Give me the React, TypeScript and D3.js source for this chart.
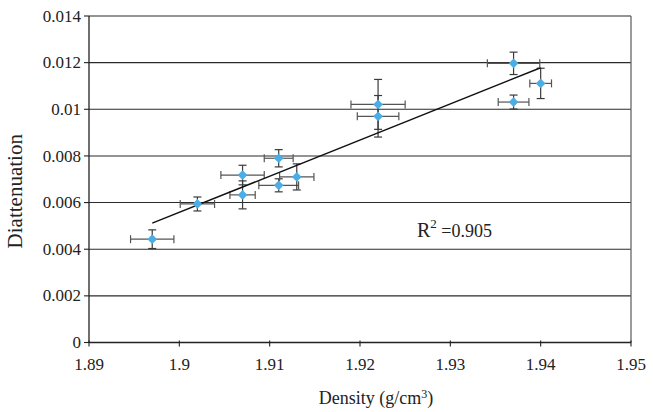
import React from 'react';
import * as d3 from 'd3';

// density (g/cm3), diattenuation and their error bars
const density = [1.897, 1.902, 1.907, 1.907, 1.911, 1.911, 1.913, 1.922, 1.922, 1.937, 1.94, 1.937];
const diattenuation = [0.00443, 0.00594, 0.00718, 0.00633, 0.0079, 0.00674, 0.0071, 0.01021, 0.0097, 0.01197, 0.01111, 0.01031];
const densityErr = [0.0024, 0.0019, 0.0024, 0.0014, 0.0016, 0.0022, 0.0019, 0.003, 0.0023, 0.0029, 0.0012, 0.0017];
const diattErr = [0.0004, 0.0003, 0.00042, 0.0006, 0.00037, 0.00028, 0.00056, 0.00107, 0.00089, 0.00048, 0.00065, 0.0003];

const xTicks = [1.89, 1.9, 1.91, 1.92, 1.93, 1.94, 1.95];
const xTickLabels = ['1.89', '1.9', '1.91', '1.92', '1.93', '1.94', '1.95'];
const yTicks = [0, 0.002, 0.004, 0.006, 0.008, 0.01, 0.012, 0.014];
const yTickLabels = ['0', '0.002', '0.004', '0.006', '0.008', '0.01', '0.012', '0.014'];
const r2Label = '0.905';

const W = 653;
const H = 412;
const left = 89;
const right = 631;
const top = 16;
const bottom = 342.5;
const font = 'Liberation Serif, Tinos, DejaVu Serif, serif';

export default function App() {
  const x = d3.scaleLinear().domain([1.89, 1.95]).range([left, right]);
  const y = d3.scaleLinear().domain([0, 0.014]).range([bottom, top]);

  // least squares trend line
  const mx = d3.mean(density) as number;
  const my = d3.mean(diattenuation) as number;
  const sxy = d3.sum(density, (d, i) => (d - mx) * (diattenuation[i] - my));
  const sxx = d3.sum(density, (d) => (d - mx) * (d - mx));
  const slope = sxy / sxx;
  const x0 = d3.min(density) as number;
  const x1 = d3.max(density) as number;
  const trend = d3.line<number>()
    .x((d) => x(d))
    .y((d) => y(my + slope * (d - mx)));

  const pts = density.map((d, i) => ({ x: d, y: diattenuation[i], ex: densityErr[i], ey: diattErr[i] }));
  const cap = 4;
  const barColor = '#3a3a3a';

  return (
    <svg width={W} height={H} style={{ position: 'absolute', left: 0, top: 0, background: '#fff', fontFamily: font }}>
      {/* grid */}
      {yTicks.slice(1).map((t) => (
        <line key={t} x1={left} x2={right} y1={y(t)} y2={y(t)} stroke="#2b2b2b" strokeWidth={1.1} />
      ))}
      <line x1={right} x2={right} y1={top} y2={bottom} stroke="#666" strokeWidth={1.3} />

      {/* y axis */}
      <line x1={left} x2={left} y1={top} y2={bottom} stroke="#222" strokeWidth={1.3} />
      {yTicks.map((t, i) => (
        <g key={t}>
          <line x1={left - 5} x2={left} y1={y(t)} y2={y(t)} stroke="#222" strokeWidth={1.1} />
          <text x={left - 8} y={y(t)} dy="0.33em" textAnchor="end" fontSize={17} fill="#222">
            {yTickLabels[i]}
          </text>
        </g>
      ))}

      {/* x axis */}
      <line x1={left} x2={right} y1={bottom} y2={bottom} stroke="#222" strokeWidth={1.4} />
      {xTicks.map((t, i) => (
        <g key={t}>
          <line x1={x(t)} x2={x(t)} y1={bottom - 2} y2={bottom + 4} stroke="#222" strokeWidth={1.1} />
          <text x={x(t)} y={370} textAnchor="middle" fontSize={17} fill="#222">
            {xTickLabels[i]}
          </text>
        </g>
      ))}

      {/* axis titles */}
      <text x={376} y={404} textAnchor="middle" fontSize={18} fill="#222">
        Density (g/cm<tspan dy={-6} fontSize={12}>3</tspan><tspan dy={6}>)</tspan>
      </text>
      <text transform={`translate(22,${(top + bottom) / 2 + 12}) rotate(-90)`} textAnchor="middle" fontSize={21} fill="#222">
        Diattenuation
      </text>

      {/* error bars */}
      {pts.map((p, i) => (
        <g key={i} stroke={barColor} strokeWidth={1.2} fill="none">
          <line x1={x(p.x - p.ex)} x2={x(p.x + p.ex)} y1={y(p.y)} y2={y(p.y)} stroke="#555" />
          <line x1={x(p.x - p.ex)} x2={x(p.x - p.ex)} y1={y(p.y) - cap} y2={y(p.y) + cap} stroke="#555" />
          <line x1={x(p.x + p.ex)} x2={x(p.x + p.ex)} y1={y(p.y) - cap} y2={y(p.y) + cap} stroke="#555" />
          <line x1={x(p.x)} x2={x(p.x)} y1={y(p.y - p.ey)} y2={y(p.y + p.ey)} />
          <line x1={x(p.x) - cap} x2={x(p.x) + cap} y1={y(p.y - p.ey)} y2={y(p.y - p.ey)} />
          <line x1={x(p.x) - cap} x2={x(p.x) + cap} y1={y(p.y + p.ey)} y2={y(p.y + p.ey)} />
        </g>
      ))}

      {/* trend line */}
      <path d={trend([x0, x1]) as string} stroke="#111" strokeWidth={1.4} fill="none" />

      {/* markers */}
      {pts.map((p, i) => (
        <path
          key={i}
          d={d3.symbol(d3.symbolDiamond2, 60)() as string}
          transform={`translate(${x(p.x)},${y(p.y)})`}
          fill="#4aade6"
        />
      ))}

      {/* R squared */}
      <text x={417} y={237} fontSize={20} fill="#222">
        R<tspan dy={-9} fontSize={13}>2</tspan><tspan dy={9} fontSize={18}> ={r2Label}</tspan>
      </text>
    </svg>
  );
}
